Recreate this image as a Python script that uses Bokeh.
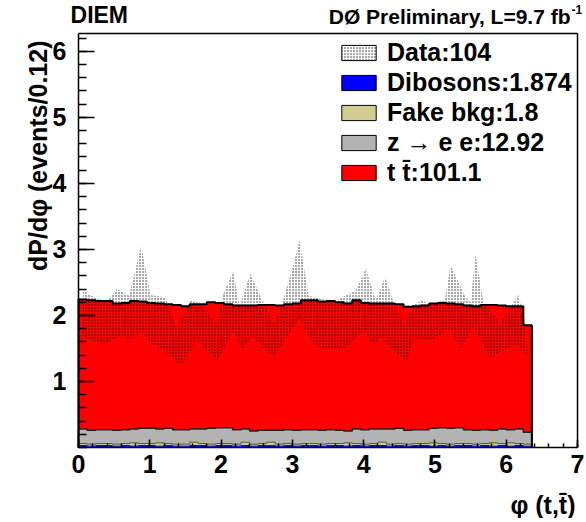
import numpy as np
from bokeh.plotting import figure
from bokeh.models import Range1d, Legend, LegendItem, Label, FixedTicker, LinearAxis
from bokeh.embed import file_html
from bokeh.resources import INLINE

# ---------------- data ----------------
bin_width = 0.12
n_bins = 53

dibosons = [0.03, 0.02, 0.03, 0.03, 0.02, 0.03, 0.02, 0.03, 0.03, 0.02,
            0.03, 0.02, 0.02, 0.03, 0.03, 0.02, 0.03, 0.03, 0.02, 0.03,
            0.02, 0.03, 0.03, 0.02, 0.03, 0.02, 0.03, 0.03, 0.02, 0.03,
            0.03, 0.02, 0.03, 0.02, 0.03, 0.03, 0.02, 0.03, 0.02, 0.03,
            0.03, 0.02, 0.03, 0.02, 0.03, 0.03, 0.02, 0.03, 0.02, 0.03,
            0.02, 0.03, 0.02]
fake_bkg = [0.03, 0.03, 0.03, 0.03, 0.03, 0.03, 0.05, 0.03, 0.03, 0.05,
            0.03, 0.03, 0.03, 0.05, 0.03, 0.03, 0.03, 0.03, 0.03, 0.05,
            0.03, 0.03, 0.05, 0.03, 0.03, 0.03, 0.03, 0.03, 0.03, 0.03,
            0.03, 0.05, 0.03, 0.03, 0.03, 0.05, 0.03, 0.03, 0.03, 0.03,
            0.03, 0.05, 0.03, 0.03, 0.03, 0.03, 0.03, 0.03, 0.05, 0.03,
            0.05, 0.03, 0.03]
z_ee = [0.22, 0.21, 0.21, 0.21, 0.21, 0.21, 0.21, 0.23, 0.23, 0.21,
        0.23, 0.22, 0.22, 0.20, 0.22, 0.24, 0.24, 0.24, 0.22, 0.20,
        0.20, 0.20, 0.18, 0.21, 0.21, 0.21, 0.21, 0.21, 0.21, 0.21,
        0.20, 0.18, 0.22, 0.22, 0.22, 0.20, 0.23, 0.23, 0.21, 0.21,
        0.21, 0.22, 0.24, 0.24, 0.24, 0.21, 0.21, 0.21, 0.19, 0.22,
        0.20, 0.22, 0.18]
ttbar = [1.96, 1.97, 1.95, 1.95, 1.92, 1.92, 1.94, 1.92, 1.90, 1.90,
         1.88, 1.89, 1.87, 1.89, 1.89, 1.91, 1.89, 1.87, 1.88, 1.87,
         1.90, 1.90, 1.90, 1.89, 1.90, 1.92, 1.96, 1.96, 1.95, 1.95,
         1.94, 1.93, 1.95, 1.92, 1.90, 1.90, 1.90, 1.88, 1.87, 1.87,
         1.88, 1.89, 1.89, 1.89, 1.87, 1.88, 1.88, 1.89, 1.90, 1.87,
         1.87, 1.86, 1.62]

# data band (data +/- uncertainty), upper and lower edges
data_up_x = [0.06, 0.24, 0.40, 0.54, 0.71, 0.88, 1.01, 1.22, 1.38, 1.57,
             1.70, 1.94, 2.02, 2.17, 2.26, 2.41, 2.60, 2.74, 2.87, 3.00,
             3.10, 3.23, 3.40, 3.60, 3.89, 4.03, 4.17, 4.30, 4.42, 4.57,
             4.70, 4.82, 4.95, 5.14, 5.22, 5.43, 5.50, 5.57, 5.68, 5.92,
             6.10, 6.17, 6.27, 6.33]
data_up_y = [2.38, 2.26, 2.22, 2.40, 2.30, 3.06, 2.31, 2.27, 1.80, 2.22,
             2.20, 1.85, 2.30, 2.67, 2.15, 2.63, 2.18, 1.85, 2.23, 2.71,
             3.14, 2.30, 2.25, 2.22, 2.38, 2.71, 2.23, 2.58, 2.20, 1.85,
             2.16, 2.23, 2.15, 2.25, 2.76, 2.27, 2.20, 2.93, 2.20, 1.87,
             2.20, 2.31, 1.90, 0.27]
data_lo_x = [0.06, 0.36, 0.61, 0.71, 0.89, 1.01, 1.22, 1.43, 1.66, 1.95,
             2.18, 2.30, 2.44, 2.74, 3.11, 3.23, 3.35, 3.72, 4.00, 4.14,
             4.23, 4.61, 4.70, 4.95, 5.22, 5.36, 5.54, 5.78, 6.15, 6.29,
             6.33]
data_lo_y = [1.67, 1.56, 1.70, 1.62, 1.77, 1.57, 1.47, 1.24, 1.62, 1.32,
             1.77, 1.47, 1.67, 1.37, 1.97, 1.67, 1.52, 1.49, 1.77, 1.55,
             1.67, 1.29, 1.67, 1.62, 1.80, 1.50, 1.82, 1.37, 1.57, 1.37,
             0.27]

legend_labels = ["Data:104", "Dibosons:1.874", "Fake bkg:1.8",
                 "z \u2192 e e:12.92", "t t\u0304:101.1"]
x_ticks = [0, 1, 2, 3, 4, 5, 6, 7]
y_ticks = [1, 2, 3, 4, 5, 6]
x_lim = (0, 7)
y_lim = (0, 6.27)

# ---------------- figure ----------------
FONT = "Liberation Sans"
# the plotting frame covers the whole canvas; axes are pinned at the
# histogram frame through fixed_location so that titles can sit outside it
p = figure(width=584, height=518, output_backend="svg", toolbar_location=None,
           x_range=Range1d(-1.0942, 7.0982), y_range=Range1d(-1.0753, 6.7698),
           min_border=0)
p.xgrid.visible = False
p.ygrid.visible = False
p.outline_line_color = None
p.background_fill_color = "white"
p.border_fill_color = "white"

edges = np.arange(n_bins + 1) * bin_width
xs_step = np.repeat(edges, 2)[1:-1]

def steps(vals):
    return np.repeat(np.asarray(vals, dtype=float), 2)

c1 = np.asarray(dibosons)
c2 = c1 + np.asarray(fake_bkg)
c3 = c2 + np.asarray(z_ee)
c4 = c3 + np.asarray(ttbar)
zero = np.zeros(n_bins)

COL_DIB, COL_FAKE, COL_Z, COL_TT = "#0000ff", "#d2cd8f", "#b3b3b3", "#ff0000"
layers = [(zero, c1, COL_DIB, "#0000ff", 1),
          (c1, c2, COL_FAKE, "#555533", 1),
          (c2, c3, COL_Z, "#222222", 1.5),
          (c3, c4, COL_TT, "black", 2)]
for lo, hi, col, lcol, lw in layers:
    p.varea(x=xs_step, y1=steps(lo), y2=steps(hi), fill_color=col)

HATCH = dict(hatch_pattern=".", hatch_scale=3, hatch_weight=1,
             hatch_color="black", hatch_alpha=0.85)

# data band
band_x = list(data_up_x) + list(data_lo_x[::-1])
band_y = list(data_up_y) + list(data_lo_y[::-1])
p.patch(band_x, band_y, fill_color=None, line_color=None, **HATCH)

# outlines
for lo, hi, col, lcol, lw in layers:
    lx = np.concatenate([[edges[0]], xs_step, [edges[-1]]])
    ly = np.concatenate([[0], steps(hi), [0]])
    p.line(lx, ly, line_color=lcol, line_width=lw)

# legend proxies (degenerate boxes at the origin, only used for the legend)
def proxy(**kw):
    return p.quad(left=[edges[0]], right=[edges[0]], top=[0], bottom=[0],
                  line_color="black", line_width=1, **kw)

r_data = proxy(fill_color="white", **HATCH)
r_dib = proxy(fill_color=COL_DIB)
r_fake = proxy(fill_color=COL_FAKE)
r_z = proxy(fill_color=COL_Z)
r_tt = proxy(fill_color=COL_TT)

legend = Legend(items=[LegendItem(label=lab, renderers=[r]) for lab, r in
                       zip(legend_labels, [r_data, r_dib, r_fake, r_z, r_tt])],
                location=(337, 331), orientation="vertical",
                glyph_width=43, glyph_height=19, label_standoff=7,
                spacing=1, padding=0, margin=0, border_line_color=None,
                background_fill_alpha=0, label_height=20,
                label_text_font=FONT, label_text_font_style="bold",
                label_text_font_size="25px", label_text_color="black")
p.add_layout(legend)

# axes pinned at the histogram frame
xa, ya = p.xaxis[0], p.yaxis[0]
xa.fixed_location = y_lim[0]
ya.fixed_location = x_lim[0]
xa.bounds = x_lim
ya.bounds = y_lim
for ax in (xa, ya):
    ax.major_label_text_font = FONT
    ax.major_label_text_font_style = "bold"
    ax.major_label_text_font_size = "25px"
    ax.major_label_text_color = "black"
    ax.major_tick_out = 0
    ax.minor_tick_out = 0
    ax.axis_line_color = "black"
    ax.axis_line_width = 1.5
    ax.major_tick_line_color = "black"
    ax.minor_tick_line_color = "black"
    ax.major_tick_line_width = 1.5
    ax.minor_tick_line_width = 1.5

xa.ticker = FixedTicker(ticks=x_ticks,
                        minor_ticks=[round(0.2 * i, 2) for i in range(36)])
ya.ticker = FixedTicker(ticks=y_ticks,
                        minor_ticks=[round(0.2 * i, 2) for i in range(32)])
xa.major_tick_in = 8
xa.minor_tick_in = 4
ya.major_tick_in = 16
ya.minor_tick_in = 8
xa.major_label_standoff = 8
ya.major_label_standoff = 12

# top and right frame edges
for side, loc, bnds in (("above", y_lim[1], x_lim), ("right", x_lim[1], y_lim)):
    ax = LinearAxis(fixed_location=loc, bounds=bnds, ticker=FixedTicker(ticks=[]),
                    axis_line_color="black", axis_line_width=1.5,
                    major_tick_in=0, major_tick_out=0, minor_tick_in=0,
                    minor_tick_out=0, major_label_text_font_size="0px")
    p.add_layout(ax, side)

# texts
def lab(text, x, y, size, align="left", angle=0.0, baseline="middle"):
    p.add_layout(Label(x=x, y=y, text=text, text_font=FONT,
                       text_font_style="bold", text_color="black",
                       text_font_size=size, text_align=align,
                       text_baseline=baseline, angle=angle))

lab("DIEM", -0.112, 6.543, "23px")
lab("D\u00d8 Preliminary, L=9.7 fb", 6.902, 6.527, "21px", align="right")
lab("-1", 6.916, 6.638, "12px")
lab("dP/d\u03c6 (events/0.12)", -0.575, 6.164, "25px", align="right", angle=np.pi / 2)
lab("\u03c6 (t,t\u0304)", 6.972, -0.878, "25px", align="right")

open("out.html", "w").write(file_html(p, INLINE))
